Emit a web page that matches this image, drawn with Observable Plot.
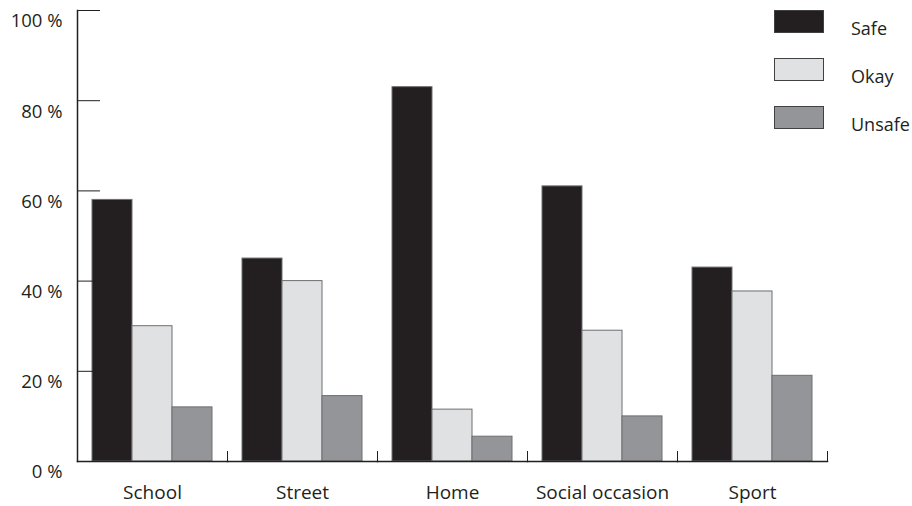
<!DOCTYPE html>
<html>
<head>
<meta charset="utf-8">
<script src="https://cdn.jsdelivr.net/npm/d3@7"></script>
<script src="https://cdn.jsdelivr.net/npm/@observablehq/plot@0.6"></script>
<style>
  body { margin: 0; background: #fff; font-family: "Open Sans", sans-serif; }
  #wrap { position: relative; width: 912px; height: 506px; }
  #legend { position: absolute; left: 0; top: 0; }
  .sw { position: absolute; left: 774px; width: 48px; height: 21px; border: 1.5px solid #414042; }
  .lb { position: absolute; left: 851px; font-size: 18px; color: #231f20; line-height: 1; }
</style>
</head>
<body>
<div id="wrap"></div>
<script>
const categories = ["School", "Street", "Home", "Social occasion", "Sport"];
const series = ["Safe", "Okay", "Unsafe"];
const safe = [58, 45, 83, 61, 43];
const okay = [30, 40, 11.5, 29, 37.7];
const unsafe = [12, 14.5, 5.5, 10, 19];
const yTicks = [0, 20, 40, 60, 80, 100];
const colors = ["#231f20", "#e0e1e3", "#939598"];

const rows = categories.flatMap((c, i) =>
  [safe, okay, unsafe].map((vals, j) => ({category: c, series: series[j], value: vals[i]}))
);

const plot = Plot.plot({
  width: 912,
  height: 506,
  marginLeft: 77,
  marginRight: 85,
  marginTop: 10,
  marginBottom: 45,
  style: {fontFamily: "'Open Sans', sans-serif", fontSize: "18px", color: "#231f20", background: "#fff"},
  fx: {domain: categories, padding: 0, label: null, axis: null},
  x: {domain: series, paddingInner: 0, paddingOuter: 0.375, axis: null},
  y: {domain: [0, 100], axis: null, label: null},
  color: {domain: series, range: colors},
  marks: [
    Plot.barY(rows, {fx: "category", x: "series", y: "value", fill: "series", stroke: "#6d6e71", strokeWidth: 1}),
    Plot.frame({anchor: "bottom", stroke: "#231f20", strokeWidth: 1.5}),
    Plot.frame({anchor: "left", facetAnchor: "left", stroke: "#231f20", strokeWidth: 1.5}),
    Plot.frame({anchor: "right", insetTop: 441, stroke: "#231f20", strokeWidth: 1}),
    Plot.axisY(yTicks, {anchor: "left", tickSize: -23, fill: "none", stroke: "#231f20", strokeWidth: 1, label: null}),
    Plot.axisY(yTicks, {anchor: "left", tickSize: 0, tickPadding: 15, dy: 11, fontSize: 18.5, tickFormat: d => d + " %", fill: "#231f20", label: null}),
    Plot.axisFx({anchor: "bottom", tickSize: 0, tickPadding: 24, fontSize: 19, fill: "#231f20", label: null})
  ]
});

const wrap = document.getElementById("wrap");
wrap.appendChild(plot);

const legend = document.createElement("div");
legend.id = "legend";
series.forEach((s, i) => {
  const sw = document.createElement("div");
  sw.className = "sw";
  sw.style.top = (10 + i * 48) + "px";
  sw.style.background = colors[i];
  legend.appendChild(sw);
  const lb = document.createElement("div");
  lb.className = "lb";
  lb.style.top = (19 + i * 48) + "px";
  lb.textContent = s;
  legend.appendChild(lb);
});
wrap.appendChild(legend);
</script>
</body>
</html>
